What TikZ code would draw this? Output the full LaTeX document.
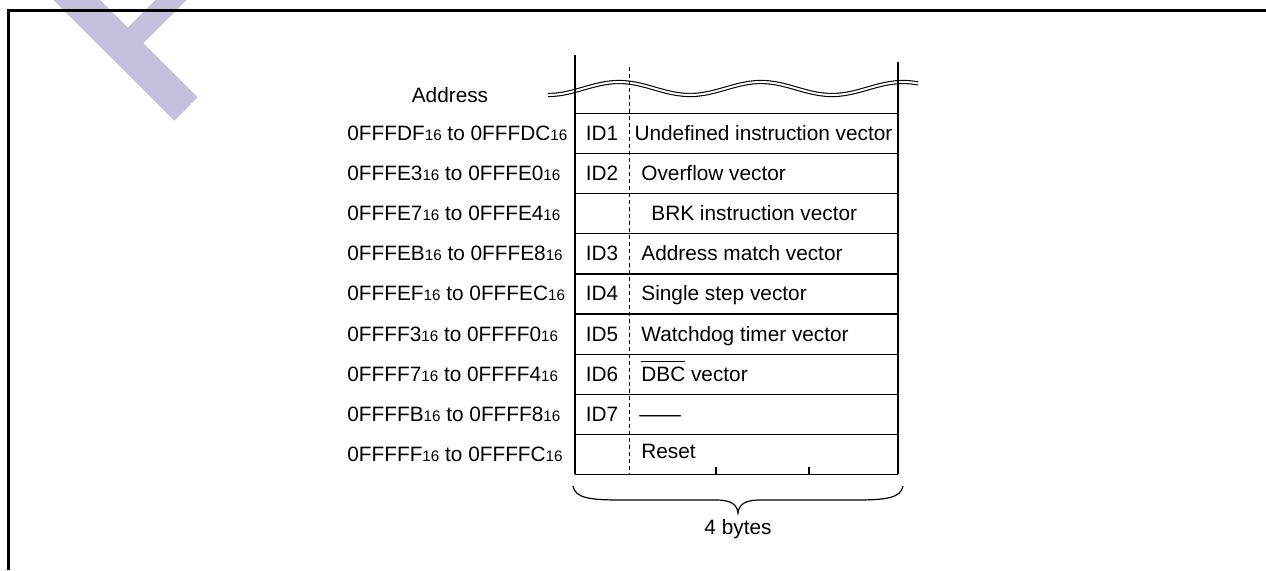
\documentclass[tikz,border=0pt]{standalone}
\usepackage{fontspec}
\setmainfont{Liberation Sans}
\definecolor{wmark}{RGB}{196,192,222}
\newcommand\hexs{{\fontsize{7.6}{8}\selectfont 16}}
\newcommand\myovl[1]{\leavevmode\setbox0\hbox{#1}\rlap{\rule[0.93em]{\wd0}{0.45pt}}\box0\relax}
\begin{document}
\begin{tikzpicture}[x=0.5pt,y=-0.5pt,font=\fontsize{10.4}{12}\selectfont,
  framel/.style={line width=1.25pt},
  vline/.style={line width=0.9pt},
  hline/.style={line width=0.6pt},
  dline/.style={line width=0.5pt,dash pattern=on 2pt off 1.5pt},
  wave/.style={line width=0.55pt,double distance=1pt},
  lbl/.style={anchor=base west,inner sep=0pt},
  idl/.style={anchor=base,inner sep=0pt}]
\useasboundingbox (0,0) rectangle (1266,570);
% watermark
\draw[wmark,line width=16.5pt] (61.7,-15) -- (186,109);
\draw[wmark,line width=11pt] (186,-15) -- (124,47);
% frame
\draw[framel] (8.7,570) -- (8.7,10.3) -- (1266,10.3);
% wave
\draw[wave] plot[smooth,domain=548:918,samples=80] (\x,{88.5+6.5*cos((\x-548)*2.5352)});
% table
\coordinate (tl) at (575,55);
\coordinate (bl) at (575,474.4);
\coordinate (tr) at (898,62);
\coordinate (br) at (898,474.4);
\coordinate (dt) at (629,67);
\coordinate (db) at (629,474.4);
\draw[dline] (dt) -- (db);
\foreach \k in {0,...,9}
  \draw[hline] (575,{113.5+40.1*\k}) -- (898,{113.5+40.1*\k});
\draw[vline] (tl) -- (bl);
\draw[vline] (tr) -- (br);
\coordinate (t1) at (716,467);
\coordinate (t1b) at (716,474.4);
\coordinate (t2) at (809,467);
\coordinate (t2b) at (809,474.4);
\draw[hline] (t1) -- (t1b);
\draw[hline] (t2) -- (t2b);
% address labels
\node[idl] (addr) at (450,102) {Address};
\foreach \a/\b [count=\i from 0] in {0FFFDF/0FFFDC,0FFFE3/0FFFE0,0FFFE7/0FFFE4,0FFFEB/0FFFE8,0FFFEF/0FFFEC,0FFFF3/0FFFF0,0FFFF7/0FFFF4,0FFFFB/0FFFF8,0FFFFF/0FFFFC}
  \node[lbl] (a\i) at (347,{113.5+40.1*(\i+0.5)+7}) {\a\hexs\ to \b\hexs};
% ID labels
\foreach \r/\t in {0/ID1,1/ID2,3/ID3,4/ID4,5/ID5,6/ID6,7/ID7}
  \node[idl] (id\r) at (602,{113.5+40.1*(\r+0.5)+7}) {\t};
% contents
\node[idl] (c0) at (763.5,{113.5+40.1*0.5+7}) {Undefined instruction vector};
\node[lbl] (c1) at (641,{113.5+40.1*1.5+7}) {Overflow vector};
\node[lbl] (c2) at (651,{113.5+40.1*2.5+7}) {BRK instruction vector};
\node[lbl] (c3) at (641,{113.5+40.1*3.5+7}) {Address match vector};
\node[lbl] (c4) at (641,{113.5+40.1*4.5+7}) {Single step vector};
\node[lbl] (c5) at (641,{113.5+40.1*5.5+7}) {Watchdog timer vector};
\node[lbl] (c6) at (641,{113.5+40.1*6.5+7}) {\myovl{DBC}\ vector};
\node[lbl] (c7) at (639,{113.5+40.1*7.5+7}) {——};
\node[lbl] (c8) at (641,{113.5+40.1*8.5+4}) {Reset};
% brace
\draw[line width=0.6pt] (573,486) .. controls (575,498) and (590,500) .. (620,500)
  -- (716,500) .. controls (732,500) and (737,505) .. (738,513)
  .. controls (739,505) and (744,500) .. (760,500)
  -- (856,500) .. controls (886,500) and (901,498) .. (903,486);
\node[idl] (bytes) at (738,534) {4 bytes};
\end{tikzpicture}
\end{document}
